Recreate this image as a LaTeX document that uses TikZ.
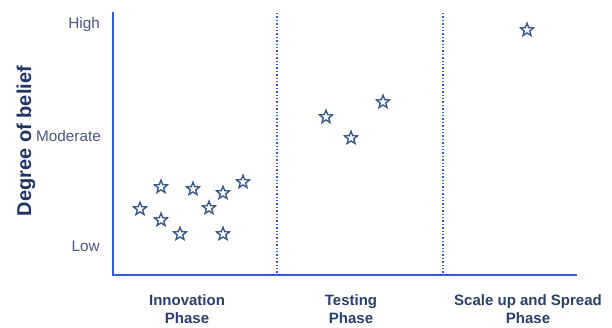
\documentclass[tikz,border=0pt]{standalone}
\usepackage{fontspec}
\setmainfont{Liberation Sans}
\usetikzlibrary{shapes.geometric}
\definecolor{axisblue}{HTML}{2E5FD6}
\definecolor{ticktext}{HTML}{4A5680}
\definecolor{phasetext}{HTML}{2A3F6A}
\definecolor{ylabtext}{HTML}{1F3460}
\definecolor{starcol}{HTML}{3A5A8A}
\tikzset{
  axisline/.style={draw=axisblue, line width=2pt},
  divider/.style={draw=axisblue, line width=1.6pt, dash pattern=on 1.4pt off 2pt},
  ticklabel/.style={text=ticktext, font=\fontsize{15.3}{18}\selectfont, anchor=east, inner sep=0pt},
  phaselabel/.style={text=phasetext, font=\bfseries\fontsize{15}{18}\selectfont, align=center, inner sep=0pt},
  ylab/.style={text=ylabtext, font=\bfseries\fontsize{20}{23}\selectfont, rotate=90, inner sep=0pt},
  starmark/.style={star, star points=5, star point ratio=2.3, minimum size=13.5pt, inner sep=0pt, draw=starcol, line width=1.4pt, fill=white},
}
\begin{document}
\begin{tikzpicture}[x=1pt,y=-1pt]
\useasboundingbox (0,0) rectangle (612,327);
% axes
\coordinate (top) at (113,12);
\coordinate (origin) at (113,275);
\coordinate (xend) at (577,275);
\draw[axisline, line join=miter] (top) -- (origin) -- (xend);
% dividers
\coordinate (d1t) at (277,13);
\coordinate (d1b) at (277,275);
\coordinate (d2t) at (443,13);
\coordinate (d2b) at (443,275);
\draw[divider] (d1t) -- (d1b);
\draw[divider] (d2t) -- (d2b);
% tick labels
\node[ticklabel] (high) at (100,25) {High};
\node[ticklabel] (moderate) at (101,136) {Moderate};
\node[ticklabel] (low) at (100,246) {Low};
% y label
\node[ylab] (ylabel) at (26,141) {Degree of belief};
% phase labels
\node[phaselabel] (innov) at (187,309) {Innovation\\Phase};
\node[phaselabel] (testing) at (351,309) {Testing\\Phase};
\node[phaselabel] (scale) at (528,309) {Scale up and Spread\\Phase};
% stars
\node[starmark] (s1) at (140,209) {};
\node[starmark] (s2) at (161,187) {};
\node[starmark] (s3) at (161,220) {};
\node[starmark] (s4) at (180,234) {};
\node[starmark] (s5) at (193,189) {};
\node[starmark] (s6) at (209,208) {};
\node[starmark] (s7) at (223,193) {};
\node[starmark] (s8) at (223,234) {};
\node[starmark] (s9) at (243,182) {};
\node[starmark] (s10) at (326,117) {};
\node[starmark] (s11) at (351,138) {};
\node[starmark] (s12) at (383,102) {};
\node[starmark] (s13) at (527,30) {};
\end{tikzpicture}
\end{document}
